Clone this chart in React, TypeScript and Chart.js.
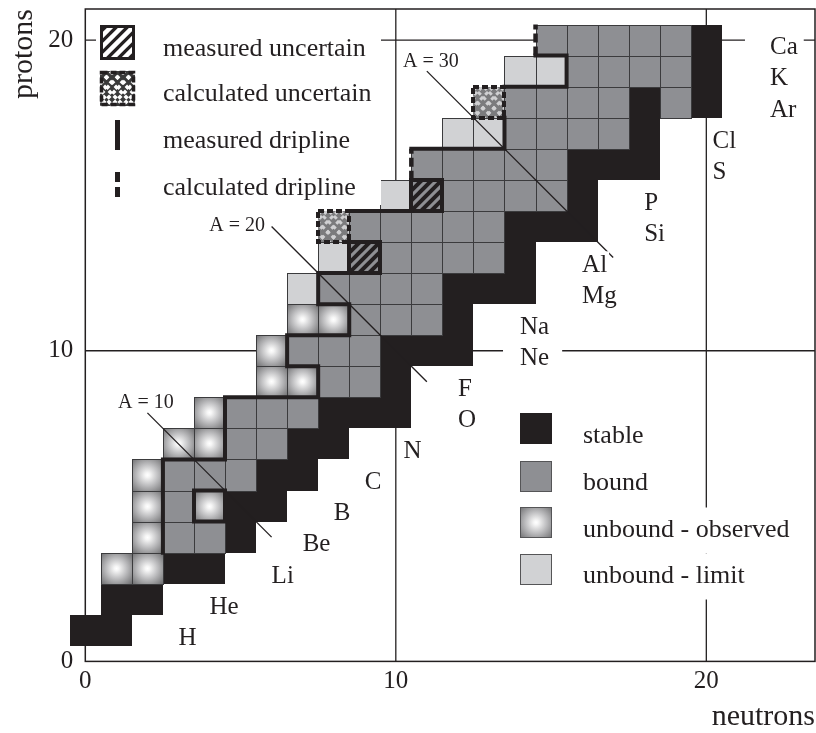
import React, { useEffect, useRef } from 'react';
import { Chart, registerables } from 'chart.js';

Chart.register(...registerables);

type NZ = [number, number]; // [neutrons, protons]

// ---- nuclides by status ----
const STABLE: NZ[] = [
  [0, 1], [1, 1],
  [1, 2], [2, 2],
  [3, 3], [4, 3],
  [5, 4],
  [5, 5], [6, 5],
  [6, 6], [7, 6],
  [7, 7], [8, 7],
  [8, 8], [9, 8], [10, 8],
  [10, 9],
  [10, 10], [11, 10], [12, 10],
  [12, 11],
  [12, 12], [13, 12], [14, 12],
  [14, 13],
  [14, 14], [15, 14], [16, 14],
  [16, 15],
  [16, 16], [17, 16], [18, 16],
  [18, 17],
  [18, 18], [20, 18],
  [20, 19],
  [20, 20],
];

const BOUND: NZ[] = [
  [3, 4], [4, 4],
  [3, 5],
  [3, 6], [4, 6], [5, 6],
  [5, 7], [6, 7],
  [5, 8], [6, 8], [7, 8],
  [8, 9], [9, 9],
  [7, 10], [8, 10], [9, 10],
  [9, 11], [10, 11], [11, 11],
  [8, 12], [9, 12], [10, 12], [11, 12],
  [10, 13], [11, 13], [12, 13], [13, 13],
  [9, 14], [10, 14], [11, 14], [12, 14], [13, 14],
  [12, 15], [13, 15], [14, 15], [15, 15],
  [11, 16], [12, 16], [13, 16], [14, 16], [15, 16],
  [14, 17], [15, 17], [16, 17], [17, 17],
  [14, 18], [15, 18], [16, 18], [17, 18], [19, 18],
  [16, 19], [17, 19], [18, 19], [19, 19],
  [15, 20], [16, 20], [17, 20], [18, 20], [19, 20],
];

const UNBOUND_OBSERVED: NZ[] = [
  [1, 3], [2, 3],
  [2, 4],
  [2, 5], [4, 5],
  [2, 6],
  [3, 7], [4, 7],
  [4, 8],
  [6, 9], [7, 9],
  [6, 10],
  [7, 11], [8, 11],
];

const UNBOUND_LIMIT: NZ[] = [
  [7, 12],
  [8, 13],
  [10, 15],
  [12, 17], [13, 17],
  [14, 19], [15, 19],
];

const MEASURED_UNCERTAIN: NZ[] = [[9, 13], [11, 15]];
const CALCULATED_UNCERTAIN: NZ[] = [[8, 14], [13, 18]];

// proton dripline, traced along cell edges
const MEASURED_DRIPLINE: NZ[][] = [
  [[2.5, 3.5], [2.5, 6.5], [4.5, 6.5], [4.5, 8.5], [7.5, 8.5], [7.5, 9.5], [6.5, 9.5],
   [6.5, 10.5], [8.5, 10.5], [8.5, 11.5], [7.5, 11.5], [7.5, 12.5], [8.5, 12.5]],
  [[3.5, 4.5], [4.5, 4.5], [4.5, 5.5], [3.5, 5.5], [3.5, 4.5]],
  [[8.5, 14.5], [10.5, 14.5]],
  [[10.5, 16.5], [13.5, 16.5], [13.5, 17.5]],
  [[13.5, 18.5], [15.5, 18.5], [15.5, 19.5], [14.5, 19.5]],
];
const CALCULATED_DRIPLINE: NZ[][] = [
  [[10.5, 15.5], [10.5, 16.5]],
  [[14.5, 19.5], [14.5, 20.5]],
];

// isobars A = N + Z
const ISOBAR_A = [10, 20, 30];
const ISOBAR_N_FROM = [2, 6, 11];
const ISOBAR_N_TO = [6, 11, 17];

const ELEMENTS = ['H', 'He', 'Li', 'Be', 'B', 'C', 'N', 'O', 'F', 'Ne',
  'Na', 'Mg', 'Al', 'Si', 'P', 'S', 'Cl', 'Ar', 'K', 'Ca'];

const X_TICKS = [0, 10, 20];
const Y_TICKS = [0, 10, 20];
const X_GRID = [10, 20];
const Y_GRID = [10, 20];

// ---- annotation placement (data units) ----
const ELEMENT_LABEL_N = [3.0, 4.0, 6.0, 7.0, 8.0, 9.0, 10.25, 12.0, 12.0, 14.0,
  14.0, 16.0, 16.0, 18.0, 18.0, 20.2, 20.2, 22.05, 22.05, 22.05];
const ISOBAR_LABEL_AT: NZ[] = [[1.95, 8.32], [4.89, 14.01], [11.13, 19.29]];
const LABEL_PAD: Record<string, [number, number]> = { Ne: [17, 13], Ca: [25, 6] };

// ---- styles ----
const INK = '#231f20';
const GRAY = '#8e8f93';
const LIGHT = '#d1d2d4';
const EDGE = '#3b3b3d';
const SERIF = '"Liberation Serif", "Times New Roman", serif';

type Rect = { x: number; y: number; w: number; h: number };
type Kind = 'stable' | 'bound' | 'observed' | 'limit' | 'measured' | 'calculated';

const CELL_GROUPS: { kind: Kind; cells: NZ[] }[] = [
  { kind: 'stable', cells: STABLE },
  { kind: 'bound', cells: BOUND },
  { kind: 'observed', cells: UNBOUND_OBSERVED },
  { kind: 'limit', cells: UNBOUND_LIMIT },
  { kind: 'measured', cells: MEASURED_UNCERTAIN },
  { kind: 'calculated', cells: CALCULATED_UNCERTAIN },
];

function fillObserved(ctx: CanvasRenderingContext2D, r: Rect) {
  const cx = r.x + r.w / 2;
  const cy = r.y + r.h / 2;
  const g = ctx.createRadialGradient(cx, cy, 0, cx, cy, Math.max(r.w, r.h) * 0.72);
  g.addColorStop(0, '#ffffff');
  g.addColorStop(0.1, '#f6f6f6');
  g.addColorStop(0.45, '#bfbfc1');
  g.addColorStop(0.78, '#8b8b8d');
  g.addColorStop(1, '#69696b');
  ctx.fillStyle = g;
  ctx.fillRect(r.x, r.y, r.w, r.h);
}

function fillHatch(ctx: CanvasRenderingContext2D, r: Rect, bg: string, fg: string, lw: number, step: number) {
  ctx.save();
  ctx.beginPath();
  ctx.rect(r.x, r.y, r.w, r.h);
  ctx.clip();
  ctx.fillStyle = bg;
  ctx.fillRect(r.x, r.y, r.w, r.h);
  ctx.strokeStyle = fg;
  ctx.lineWidth = lw;
  const c0 = (r.w + r.h) / 2;
  for (let k = -5; k <= 5; k++) {
    const c = c0 + k * step;
    ctx.beginPath();
    ctx.moveTo(r.x + c, r.y);
    ctx.lineTo(r.x + c - r.h, r.y + r.h);
    ctx.stroke();
  }
  ctx.restore();
}

function fillCross(ctx: CanvasRenderingContext2D, r: Rect, bg: string, fg: string, lw: number, step: number) {
  ctx.save();
  ctx.beginPath();
  ctx.rect(r.x, r.y, r.w, r.h);
  ctx.clip();
  ctx.fillStyle = bg;
  ctx.fillRect(r.x, r.y, r.w, r.h);
  ctx.strokeStyle = fg;
  ctx.lineWidth = lw;
  ctx.setLineDash([4, 3]);
  const c0 = (r.w + r.h) / 2;
  const d0 = (r.w - r.h) / 2;
  for (let k = -5; k <= 5; k++) {
    const c = c0 + k * step;
    ctx.beginPath();
    ctx.moveTo(r.x + c, r.y);
    ctx.lineTo(r.x + c - r.h, r.y + r.h);
    ctx.stroke();
    const d = d0 + k * step;
    ctx.beginPath();
    ctx.moveTo(r.x + d, r.y);
    ctx.lineTo(r.x + d + r.h, r.y + r.h);
    ctx.stroke();
  }
  ctx.restore();
}

function thickBox(ctx: CanvasRenderingContext2D, r: Rect, dashed: boolean, lw = 4) {
  ctx.save();
  ctx.strokeStyle = INK;
  ctx.lineWidth = lw;
  ctx.lineJoin = 'miter';
  if (dashed) ctx.setLineDash([6, 3]);
  ctx.strokeRect(r.x, r.y, r.w, r.h);
  ctx.restore();
}

function thinEdge(ctx: CanvasRenderingContext2D, r: Rect, color = EDGE) {
  ctx.save();
  ctx.strokeStyle = color;
  ctx.lineWidth = 1;
  ctx.strokeRect(r.x + 0.5, r.y + 0.5, r.w, r.h);
  ctx.restore();
}

function paintCell(ctx: CanvasRenderingContext2D, kind: Kind, r: Rect) {
  switch (kind) {
    case 'stable':
      ctx.fillStyle = INK;
      ctx.fillRect(r.x, r.y, r.w, r.h);
      break;
    case 'bound':
      ctx.fillStyle = GRAY;
      ctx.fillRect(r.x, r.y, r.w, r.h);
      break;
    case 'limit':
      ctx.fillStyle = LIGHT;
      ctx.fillRect(r.x, r.y, r.w, r.h);
      break;
    case 'observed':
      fillObserved(ctx, r);
      break;
    case 'measured':
      fillHatch(ctx, r, GRAY, INK, 4, 10);
      break;
    case 'calculated':
      fillCross(ctx, r, '#7b7b7d', '#d0d0d2', 3, 11);
      break;
  }
}

function textWithBg(ctx: CanvasRenderingContext2D, text: string, x: number, y: number,
  padL: number, padR: number, halfH: number) {
  const w = ctx.measureText(text).width;
  ctx.fillStyle = '#ffffff';
  ctx.fillRect(x - padL, y - halfH, w + padL + padR, halfH * 2);
  ctx.fillStyle = INK;
  ctx.fillText(text, x, y);
}

const nuclidePlugin = {
  id: 'nuclideChart',
  beforeDatasetsDraw(chart: any) {
    const { ctx, chartArea: ca, scales } = chart;
    const xs = scales.x;
    const ys = scales.y;
    ctx.save();

    // frame and grid
    ctx.strokeStyle = INK;
    ctx.lineWidth = 1.5;
    ctx.strokeRect(ca.left, ca.top, ca.right - ca.left, ca.bottom - ca.top);
    ctx.lineWidth = 1.3;
    for (const v of X_GRID) {
      const p = xs.getPixelForValue(v);
      ctx.beginPath();
      ctx.moveTo(p, ca.top);
      ctx.lineTo(p, ca.bottom);
      ctx.stroke();
    }
    for (const v of Y_GRID) {
      const p = ys.getPixelForValue(v);
      ctx.beginPath();
      ctx.moveTo(ca.left, p);
      ctx.lineTo(ca.right, p);
      ctx.stroke();
    }

    // cells, centred on the points the scatter datasets place
    const ux = Math.abs(xs.getPixelForValue(1) - xs.getPixelForValue(0));
    const uy = Math.abs(ys.getPixelForValue(1) - ys.getPixelForValue(0));
    const cells: { kind: Kind; r: Rect }[] = [];
    chart.data.datasets.forEach((ds: any, i: number) => {
      if (!ds.cellKind) return;
      const meta = chart.getDatasetMeta(i);
      meta.data.forEach((el: any) => {
        const x0 = Math.round(el.x - ux / 2);
        const x1 = Math.round(el.x + ux / 2);
        const y0 = Math.round(el.y - uy / 2);
        const y1 = Math.round(el.y + uy / 2);
        cells.push({ kind: ds.cellKind, r: { x: x0, y: y0, w: x1 - x0, h: y1 - y0 } });
      });
    });
    for (const c of cells) paintCell(ctx, c.kind, c.r);
    for (const c of cells) {
      if (c.kind === 'bound' || c.kind === 'limit' || c.kind === 'observed') thinEdge(ctx, c.r);
    }
    for (const c of cells) {
      if (c.kind === 'measured') thickBox(ctx, c.r, false);
      if (c.kind === 'calculated') thickBox(ctx, c.r, true);
    }
    ctx.restore();
  },
  afterDatasetsDraw(chart: any) {
    const { ctx, scales } = chart;
    const xs = scales.x;
    const ys = scales.y;
    ctx.save();
    ctx.textBaseline = 'middle';
    ctx.textAlign = 'left';

    // element symbols
    ctx.font = `25px ${SERIF}`;
    ELEMENTS.forEach((sym, i) => {
      const z = i + 1;
      const x = xs.getPixelForValue(ELEMENT_LABEL_N[i]);
      const y = ys.getPixelForValue(z - 0.25);
      const [pl, pr] = LABEL_PAD[sym] || [2, 2];
      textWithBg(ctx, sym, x, y, pl, pr, 14);
    });

    // isobar labels
    ctx.font = `20px ${SERIF}`;
    ctx.textAlign = 'center';
    ctx.fillStyle = INK;
    ISOBAR_A.forEach((a, i) => {
      const [n, z] = ISOBAR_LABEL_AT[i];
      ctx.fillText(`A = ${a}`, xs.getPixelForValue(n), ys.getPixelForValue(z));
    });

    // upper-left key
    ctx.fillStyle = '#ffffff';
    ctx.fillRect(96, 19, 285, 186);
    const mBox = { x: 100, y: 25, w: 35, h: 35 };
    fillHatch(ctx, mBox, INK, '#ffffff', 4.5, 11);
    thickBox(ctx, { x: 101.5, y: 26.5, w: 32, h: 32 }, false, 3);
    const cBox = { x: 100, y: 71, w: 35, h: 35 };
    fillCross(ctx, cBox, '#3a3a3a', '#ffffff', 3.5, 11);
    thickBox(ctx, { x: 101.5, y: 72.5, w: 32, h: 32 }, true, 3.5);
    ctx.fillStyle = INK;
    ctx.fillRect(115, 120, 5, 30);
    ctx.fillRect(115, 172, 5, 10);
    ctx.fillRect(115, 187, 5, 10);
    ctx.font = `26px ${SERIF}`;
    ctx.textAlign = 'left';
    ctx.fillText('measured uncertain', 163, 49.5);
    ctx.fillText('calculated uncertain', 163, 94.5);
    ctx.fillText('measured dripline', 163, 141.5);
    ctx.fillText('calculated dripline', 163, 188.5);

    // lower-right key
    const sw = [
      { kind: 'stable' as Kind, y: 413, text: 'stable', ty: 436.5 },
      { kind: 'bound' as Kind, y: 461, text: 'bound', ty: 483.5 },
      { kind: 'observed' as Kind, y: 507, text: 'unbound - observed', ty: 530.5 },
      { kind: 'limit' as Kind, y: 554, text: 'unbound - limit', ty: 576.5 },
    ];
    for (const s of sw) {
      const r = { x: 520, y: s.y, w: 32, h: 31 };
      paintCell(ctx, s.kind, r);
      if (s.kind !== 'stable') thinEdge(ctx, { x: r.x, y: r.y, w: r.w - 1, h: r.h - 1 }, '#555557');
      textWithBg(ctx, s.text, 583, s.ty, 4, 4, 23);
    }
    ctx.restore();
  },
};

function buildConfig(): any {
  const lineCommon = {
    showLine: true,
    borderColor: INK,
    pointRadius: 0,
    pointHoverRadius: 0,
    pointHitRadius: 0,
    tension: 0,
    fill: false,
  };
  const driplineSets = [
    ...MEASURED_DRIPLINE.map((path) => ({
      ...lineCommon,
      label: 'measured dripline',
      data: path.map(([x, y]) => ({ x, y })),
      borderWidth: 4,
      borderJoinStyle: 'miter',
      borderCapStyle: 'square',
    })),
    ...CALCULATED_DRIPLINE.map((path) => ({
      ...lineCommon,
      label: 'calculated dripline',
      data: path.map(([x, y]) => ({ x, y })),
      borderWidth: 4.5,
      borderDash: [9, 4],
      borderCapStyle: 'butt',
    })),
  ];
  const isobarSets = ISOBAR_A.map((a, i) => ({
    ...lineCommon,
    label: `A = ${a}`,
    data: [
      { x: ISOBAR_N_FROM[i], y: a - ISOBAR_N_FROM[i] },
      { x: ISOBAR_N_TO[i], y: a - ISOBAR_N_TO[i] },
    ],
    borderWidth: 1.3,
  }));
  const cellSets = CELL_GROUPS.map((g) => ({
    label: g.kind,
    cellKind: g.kind,
    data: g.cells.map(([x, y]) => ({ x, y })),
    pointRadius: 0,
    pointHoverRadius: 0,
    pointHitRadius: 0,
  }));

  const tickFont = { family: SERIF, size: 25 };
  const titleFont = { family: SERIF, size: 30, lineHeight: 1 };

  return {
    type: 'scatter',
    data: { datasets: [...driplineSets, ...isobarSets, ...cellSets] },
    options: {
      animation: false,
      responsive: false,
      devicePixelRatio: 1,
      events: [],
      layout: { padding: { top: 9, right: 1, left: 0, bottom: 0 } },
      plugins: { legend: { display: false }, tooltip: { enabled: false } },
      scales: {
        x: {
          type: 'linear',
          min: 0,
          max: 23.5,
          afterBuildTicks: (s: any) => { s.ticks = X_TICKS.map((v) => ({ value: v })); },
          afterFit: (s: any) => { s.height = 71.6; s.paddingLeft = 0; s.paddingRight = 0; },
          grid: { display: false, drawTicks: false },
          border: { display: false },
          ticks: { font: tickFont, color: INK, padding: 5, maxRotation: 0, autoSkip: false },
          title: {
            display: true, text: 'neutrons', align: 'end', color: INK,
            font: titleFont, padding: { top: 0, bottom: 1 },
          },
        },
        y: {
          type: 'linear',
          min: 0,
          max: 21,
          afterBuildTicks: (s: any) => { s.ticks = Y_TICKS.map((v) => ({ value: v })); },
          afterFit: (s: any) => { s.width = 85.3; s.paddingTop = 0; s.paddingBottom = 0; },
          grid: { display: false, drawTicks: false },
          border: { display: false },
          ticks: { font: tickFont, color: INK, padding: 12, autoSkip: false },
          title: {
            display: true, text: 'protons', align: 'end', color: INK,
            font: titleFont, padding: { top: 9, bottom: 0 },
          },
        },
      },
    },
    plugins: [nuclidePlugin],
  };
}

export default function App() {
  const ref = useRef<HTMLCanvasElement>(null);
  useEffect(() => {
    if (!ref.current) return;
    const chart = new Chart(ref.current, buildConfig());
    return () => chart.destroy();
  }, []);
  return (
    <div style={{ position: 'absolute', left: 0, top: 0, width: 816, height: 733, background: '#ffffff' }}>
      <canvas ref={ref} width={816} height={733} style={{ display: 'block' }} />
    </div>
  );
}
